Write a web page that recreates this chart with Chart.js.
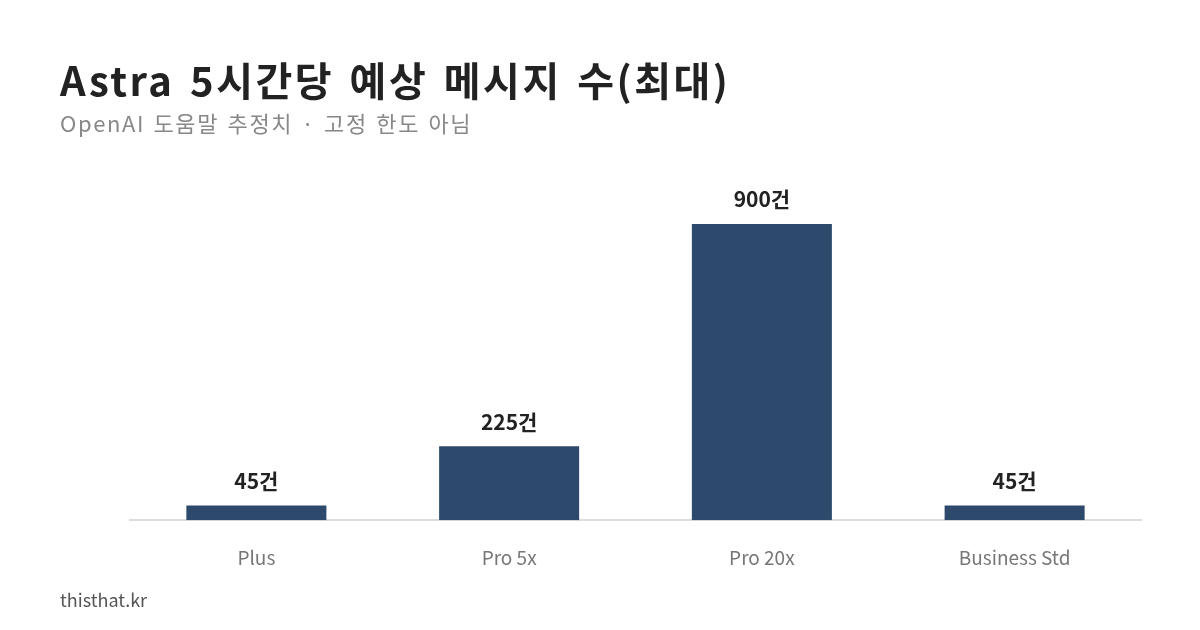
<!DOCTYPE html>
<html><head><meta charset="utf-8">
<script src="https://cdn.jsdelivr.net/npm/chart.js@4"></script>
<style>
body{margin:0;width:1200px;height:630px;background:#fff;font-family:"Noto Sans CJK KR","Noto Sans",sans-serif;overflow:hidden;position:relative}
#t{position:absolute;left:60px;top:50px;font-size:40px;font-weight:700;color:#222;letter-spacing:2.5px;word-spacing:4px}
#s{position:absolute;left:60px;top:106px;font-size:22px;color:#888;letter-spacing:1.6px;word-spacing:2px}
#f{position:absolute;left:60px;top:586px;font-size:18px;color:#555}
#w{position:absolute;left:0;top:0;width:1200px;height:630px}
</style></head><body>
<div id="w"><canvas id="c"></canvas></div>
<div id="t">Astra 5시간당 예상 메시지 수(최대)</div>
<div id="s">OpenAI 도움말 추정치 · 고정 한도 아님</div>
<div id="f">thisthat.kr</div>
<script>
const categories = ["Plus", "Pro 5x", "Pro 20x", "Business Std"];
const messages = [45, 225, 900, 45];
const valueLabels = ["45건", "225건", "900건", "45건"];

const barLabels = {
    id: "barLabels",
    afterDatasetsDraw(chart){
        const c = chart.ctx;
        c.save();
        c.font = "700 21px 'Noto Sans CJK KR'";
        c.fillStyle = "#222";
        c.textAlign = "center";
        c.textBaseline = "bottom";
        chart.getDatasetMeta(0).data.forEach((bar, i) => {
            c.fillText(valueLabels[i], bar.x, bar.y - 14);
        });
        c.restore();
    }
};

new Chart(document.getElementById("c"), {
    type: "bar",
    data: {
        labels: categories,
        datasets: [{
            data: messages,
            backgroundColor: "#2d4a6d",
            barPercentage: 0.554,
            categoryPercentage: 1
        }]
    },
    options: {
        responsive: true,
        maintainAspectRatio: false,
        animation: false,
        layout: {padding: {left: 130, right: 59, top: 191, bottom: 43}},
        scales: {
            x: {
                grid: {display: false},
                border: {color: "#dddddd", width: 2},
                ticks: {color: "#777", font: {size: 19, family: "Noto Sans CJK KR"}, padding: 18}
            },
            y: {display: false, min: 0, max: 1000}
        },
        plugins: {legend: {display: false}, tooltip: {enabled: false}}
    },
    plugins: [barLabels]
});
</script>
</body></html>
